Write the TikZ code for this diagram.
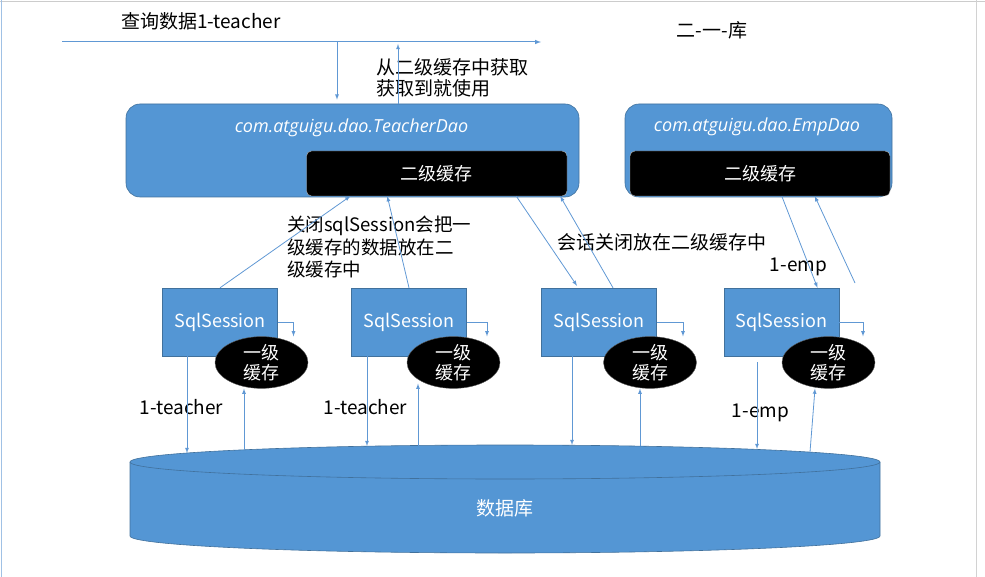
\documentclass[tikz,border=0pt]{standalone}
\usepackage{fontspec}
\setmainfont{Noto Sans CJK SC}
\newfontfamily\daofont{Open Sans}
\usetikzlibrary{shapes.geometric}
\definecolor{boxblue}{RGB}{84,150,212}
\definecolor{boxedge}{RGB}{65,113,156}
\definecolor{lineblue}{RGB}{96,152,212}

\begin{document}
\begin{tikzpicture}[x=1pt,y=-1pt,>=latex,
  flow/.style={draw=lineblue, line width=0.8pt, ->},
  dao/.style={draw=boxedge, fill=boxblue, rounded corners=14pt, line width=0.6pt, inner sep=0pt},
  daoname/.style={text=white, font=\daofont\itshape\fontsize{18}{20}\selectfont},
  cachetwo/.style={fill=black, draw=gray!60, rounded corners=5pt, inner sep=0pt, text=white, font=\fontsize{18}{20}\selectfont},
  session/.style={draw=boxedge, fill=boxblue, minimum width=115pt, minimum height=68pt, inner sep=0pt, text=white, font=\fontsize{18}{20}\selectfont},
  cacheone/.style={ellipse, fill=black, draw=gray!70!black, minimum width=93pt, minimum height=41pt, inner sep=0pt, text=white, align=center, font=\fontsize{18}{20}\selectfont},
  note/.style={font=\fontsize{19}{22.5}\selectfont, align=left, inner sep=0pt}]

\useasboundingbox (0,0) rectangle (985,577);
\draw[gray!40] (0,1) -- (985,1);
\draw[lineblue!60] (1,0) -- (1,577);
\draw[gray!35] (976,0) -- (976,577);

\node[note, anchor=west] (query) at (121,21) {查询数据1-teacher};
\node[note] (order) at (712,30) {二-一-库};
\node[note, anchor=north west, font=\fontsize{19}{21}\selectfont] (fetch) at (376,58) {从二级缓存中获取\\获取到就使用};

\node[dao, minimum width=453pt, minimum height=93pt] (tdao) at (352.5,150.5) {};
\node[daoname] (tname) at (351.5,128) {com.atguigu.dao.TeacherDao};
\node[cachetwo, minimum width=260.5pt, minimum height=45pt] (tcache) at (436.75,173.5) {二级缓存};

\node[dao, minimum width=267pt, minimum height=93pt] (edao) at (758.5,150.5) {};
\node[daoname] (ename) at (757,127) {com.atguigu.dao.EmpDao};
\node[cachetwo, minimum width=260pt, minimum height=45pt] (ecache) at (760,173.5) {二级缓存};

\node[session] (s1) at (220,322) {SqlSession};
\node[session] (s2) at (409,322) {SqlSession};
\node[session] (s3) at (599,322) {SqlSession};
\node[session] (s4) at (781.5,322) {SqlSession};

\node[cacheone] (e1) at (261.5,362.5) {一级\\缓存};
\node[cacheone] (e2) at (453.5,362.5) {一级\\缓存};
\node[cacheone] (e3) at (650,362.5) {一级\\缓存};
\node[cacheone] (e4) at (828.5,362.5) {一级\\缓存};

\fill[boxblue] (130,462) -- (130,536) arc[start angle=180, end angle=0, x radius=375, y radius=17]
  -- (880,462) arc[start angle=0, end angle=-180, x radius=375, y radius=17] -- cycle;
\draw[boxedge, line width=0.6pt] (130,462) -- (130,536) arc[start angle=180, end angle=0, x radius=375, y radius=17] -- (880,462);
\draw[boxedge, line width=0.6pt] (505,462) ellipse[x radius=375, y radius=17];
\node[note, text=white] (db) at (505,508) {数据库};

\coordinate (qstart) at (62,42);
\coordinate (qend) at (541,42);
\draw[flow, line width=1pt] (qstart) -- (qend);
\draw[flow] ([xshift=-15.5pt]tdao.north |- qstart) -- ([xshift=-15.5pt,yshift=4pt]tdao.north);
\draw[flow] ([xshift=45.5pt]tdao.north) -- ([xshift=45.5pt,yshift=-2pt]tdao.north |- qstart);

\node[note, anchor=north west, font=\fontsize{18.5}{22.5}\selectfont] (closenote) at (287,216) {关闭sqlSession会把一\\级缓存的数据放在二\\级缓存中};
\node[note] (sessnote) at (662,242) {会话关闭放在二级缓存中};
\node[note] (empup) at (798.5,267) {1-emp};
\node[note] (tlabel1) at (181.5,407) {1-teacher};
\node[note] (tlabel2) at (365.5,407) {1-teacher};
\node[note] (emplow) at (760.5,413) {1-emp};

\draw[flow] (s1.north) -- ([xshift=44pt]tcache.south west);
\draw[flow] (s2.north) -- ([xshift=81pt]tcache.south west);
\draw[flow] ([xshift=210pt]tcache.south west) -- ([xshift=-22pt,yshift=2pt]s3.north);
\draw[flow] ([xshift=14pt]s3.north) -- ([xshift=-7pt]tcache.south east);
\draw[flow] ([xshift=152pt]ecache.south west) -- ([xshift=36pt]s4.north);
\coordinate (efree) at (855,283);
\draw[flow] (efree) -- ([xshift=185pt]ecache.south west);

\draw[flow] (s1.east) -| ([xshift=32pt]e1.north);
\draw[flow] (s2.east) -| ([xshift=33.5pt]e2.north);
\draw[flow] (s3.east) -| ([xshift=33pt]e3.north);
\draw[flow] (s4.east) -| ([xshift=34.5pt]e4.north);

\coordinate (db1) at (187,453);
\coordinate (db2) at (244,450);
\coordinate (db3) at (367,446);
\coordinate (db4) at (418,445.5);
\coordinate (db5) at (572,445);
\coordinate (db6) at (640,446);
\coordinate (db7) at (757,449);
\coordinate (db8) at (810,452);
\draw[flow] (db1 |- s1.south) -- (db1);
\draw[flow] (db2) -- (db2 |- e1.south);
\draw[flow] (db3 |- s2.south) -- (db3);
\draw[flow] (db4) -- ([yshift=5pt]db4 |- e2.south);
\draw[flow] (db5 |- s3.south) -- (db5);
\draw[flow] (db6) -- (db6 |- e3.south);
\draw[flow] ([yshift=-6pt]db7 |- s4.south) -- (db7);
\draw[flow] (db8) -- ([xshift=5pt]db8 |- e4.south);

\end{tikzpicture}
\end{document}
